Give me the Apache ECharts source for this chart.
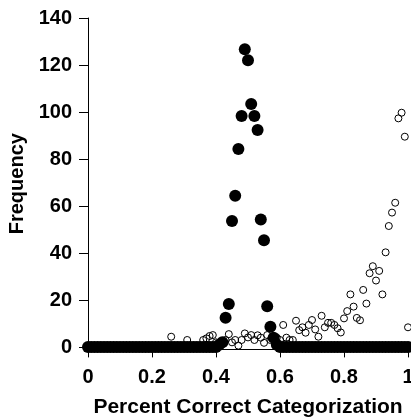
<!DOCTYPE html>
<html>
<head>
<meta charset="utf-8">
<style>
  html, body { margin: 0; padding: 0; background: #fff; }
  #chart { width: 411px; height: 418px; }
</style>
<script src="https://cdn.jsdelivr.net/npm/echarts@6/dist/echarts.min.js"></script>
</head>
<body>
<div id="chart"></div>
<script>
// bin centres (percent correct, 0.01 wide)
const bins = [
  0.00, 0.01, 0.02, 0.03, 0.04, 0.05, 0.06, 0.07, 0.08, 0.09,
  0.10, 0.11, 0.12, 0.13, 0.14, 0.15, 0.16, 0.17, 0.18, 0.19,
  0.20, 0.21, 0.22, 0.23, 0.24, 0.25, 0.26, 0.27, 0.28, 0.29,
  0.30, 0.31, 0.32, 0.33, 0.34, 0.35, 0.36, 0.37, 0.38, 0.39,
  0.40, 0.41, 0.42, 0.43, 0.44, 0.45, 0.46, 0.47, 0.48, 0.49,
  0.50, 0.51, 0.52, 0.53, 0.54, 0.55, 0.56, 0.57, 0.58, 0.59,
  0.60, 0.61, 0.62, 0.63, 0.64, 0.65, 0.66, 0.67, 0.68, 0.69,
  0.70, 0.71, 0.72, 0.73, 0.74, 0.75, 0.76, 0.77, 0.78, 0.79,
  0.80, 0.81, 0.82, 0.83, 0.84, 0.85, 0.86, 0.87, 0.88, 0.89,
  0.90, 0.91, 0.92, 0.93, 0.94, 0.95, 0.96, 0.97, 0.98, 0.99,
  1.00
];

// filled circles
const filledFreq = [
  0, 0, 0, 0, 0, 0, 0, 0, 0, 0,
  0, 0, 0, 0, 0, 0, 0, 0, 0, 0,
  0, 0, 0, 0, 0, 0, 0, 0, 0, 0,
  0, 0, 0, 0, 0, 0, 0, 0, 0, 0,
  0, 1, 2, 12.5, 18.3, 53.6, 64.4, 84.3, 98.3, 126.7,
  122, 103.4, 98.3, 92.3, 54.3, 45.4, 17.4, 8.6, 4, 1,
  0, 0, 0, 0, 0, 0, 0, 0, 0, 0,
  0, 0, 0, 0, 0, 0, 0, 0, 0, 0,
  0, 0, 0, 0, 0, 0, 0, 0, 0, 0,
  0, 0, 0, 0, 0, 0, 0, 0, 0, 0,
  0
];

// open circles
const openFreq = [
  0, 0, 0, 0, 0, 0, 0, 0, 0, 0,
  0, 0, 0, 0, 0, 0, 0, 0, 0, 0,
  0, 0, 0, 0, 0, 0, 4.4, 0, 0, 0,
  0, 3, 0, 0, 0, 0, 3, 3.7, 4.7, 5.1,
  2, 1, 2, 3, 5.5, 2, 3, 0.6, 3, 5.8,
  4.1, 5.1, 3, 5, 4, 1.8, 5.1, 3, 4, 4,
  3, 9.4, 4, 3, 3, 11.2, 7.2, 8.4, 6.1, 9.4,
  11.5, 7.5, 4.4, 13.3, 8.4, 10.3, 10.3, 9.4, 8, 6.2,
  12.2, 15.3, 22.4, 17.2, 12.4, 11.4, 24.3, 18.5, 31.4, 34.4,
  28.3, 32.4, 22.4, 40.3, 51.5, 57.2, 61.4, 97.3, 99.7, 89.5,
  8.4
];

const yTicks = [0, 20, 40, 60, 80, 100, 120, 140];

const font = "'Liberation Sans', Arial, sans-serif";

let myChart = echarts.init(document.getElementById('chart'));

let options = {
  backgroundColor: '#fff',
  animation: false,
  grid: {
    left: 88,
    right: 3,
    top: 18,
    bottom: 68.6,
    outerBoundsMode: 'none',
    containLabel: false
  },
  xAxis: {
    type: 'value',
    min: 0,
    max: 1,
    interval: 0.2,
    name: 'Percent Correct Categorization',
    nameLocation: 'middle',
    nameGap: 47,
    nameTextStyle: {
      color: '#000',
      fontSize: 21,
      fontWeight: 'bold',
      fontFamily: font
    },
    axisLine: { onZero: false, lineStyle: { color: '#000', width: 1 } },
    axisTick: { length: 8, lineStyle: { color: '#000' } },
    splitLine: { show: false },
    axisLabel: {
      color: '#000',
      fontSize: 20,
      fontWeight: 'bold',
      fontFamily: font,
      margin: 18
    }
  },
  yAxis: {
    type: 'value',
    min: -1,
    max: 140,
    name: 'Frequency',
    nameLocation: 'middle',
    nameGap: 55,
    nameTextStyle: {
      color: '#000',
      fontSize: 20,
      fontWeight: 'bold',
      fontFamily: font
    },
    axisLine: { show: true, lineStyle: { color: '#000', width: 1 } },
    axisTick: { show: true, length: 9, customValues: yTicks, lineStyle: { color: '#000' } },
    splitLine: { show: false },
    axisLabel: {
      customValues: yTicks,
      color: '#000',
      fontSize: 20,
      fontWeight: 'bold',
      fontFamily: font,
      margin: 16
    }
  },
  series: [
    {
      name: 'open',
      type: 'scatter',
      clip: false,
      silent: true,
      symbol: 'circle',
      symbolSize: 7,
      itemStyle: {
        color: 'rgba(0,0,0,0)',
        borderColor: '#000',
        borderWidth: 1,
        opacity: 1
      },
      data: bins.map((b, i) => [b, openFreq[i]])
    },
    {
      name: 'filled',
      type: 'scatter',
      clip: false,
      silent: true,
      symbol: 'circle',
      symbolSize: 12,
      itemStyle: { color: '#000', borderWidth: 0, opacity: 1 },
      data: bins.map((b, i) => [b, filledFreq[i]])
    }
  ]
};

myChart.setOption(options);
</script>
</body>
</html>
